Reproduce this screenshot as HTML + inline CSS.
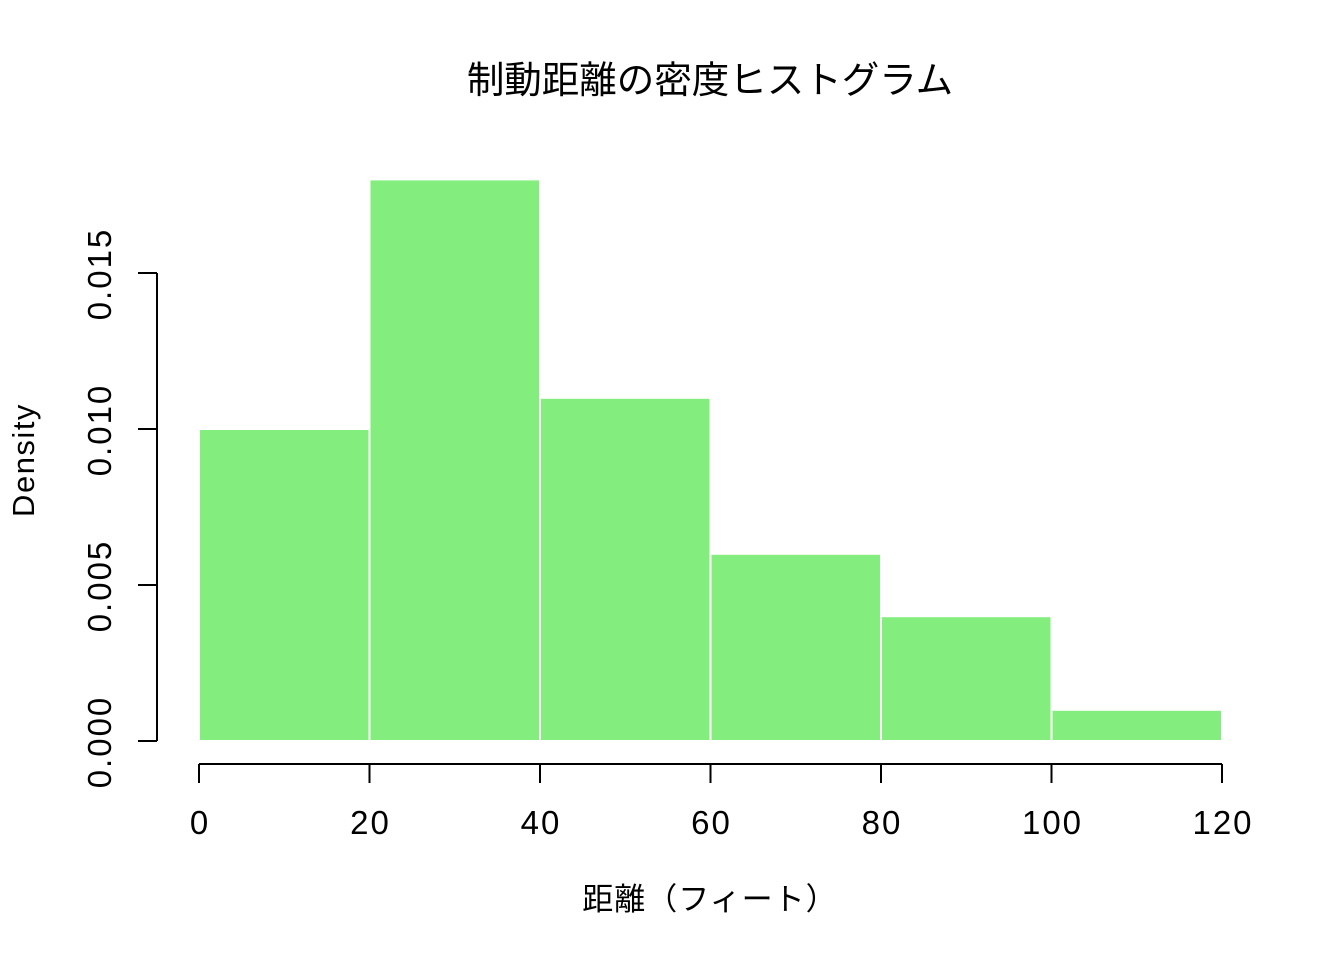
<!DOCTYPE html>
<html><head><meta charset="utf-8"><style>
body{margin:0;background:#fff}
svg{display:block}
text{font-family:"Liberation Sans","Noto Sans CJK JP",sans-serif;fill:#000}
</style></head><body>
<svg id="chart" width="1344" height="960">
<text x="710" y="93" font-size="37.5" text-anchor="middle">制動距離の密度ヒストグラム</text>
<text x="710" y="910" font-size="31" letter-spacing="1" text-anchor="middle">距離（フィート）</text>
<text transform="translate(34,460) rotate(-90)" font-size="31" letter-spacing="1.5" text-anchor="middle">Density</text>
<g id="bars"></g><g id="axes"></g>
</svg>
<script>
const binEdges=[0,20,40,60,80,100,120];
const densities=[0.010,0.018,0.011,0.006,0.004,0.001];
const xTicks=[0,20,40,60,80,100,120];
const yTicks=[0,0.005,0.010,0.015];
const yTickLabels=["0.000","0.005","0.010","0.015"];
const NS="http://www.w3.org/2000/svg";
const xs=v=>199+(v-0)*(1222-199)/120;
const ys=v=>741-v*31200;
function mk(t,a,p){const e=document.createElementNS(NS,t);for(const k in a)e.setAttribute(k,a[k]);p.appendChild(e);return e;}
const bars=document.getElementById('bars'),axes=document.getElementById('axes');
densities.forEach((d,i)=>{
 const r=mk('rect',{x:xs(binEdges[i]),y:ys(d),width:xs(binEdges[i+1])-xs(binEdges[i]),height:ys(0)-ys(d),fill:'#83ee7e',stroke:'#fff','stroke-width':2},bars);
 
 
});
const xl=mk('line',{x1:xs(xTicks[0]),x2:xs(xTicks[xTicks.length-1]),y1:764,y2:764,stroke:'#000','stroke-width':2},axes);


xTicks.forEach(v=>{
 mk('line',{x1:xs(v),x2:xs(v),y1:764,y2:783,stroke:'#000','stroke-width':2},axes);
 const t=mk('text',{x:xs(v)+1,y:834,'font-size':33,'letter-spacing':2,'text-anchor':'middle'},axes);t.textContent=v;
 
 
});
const yl=mk('line',{x1:157,x2:157,y1:ys(yTicks[yTicks.length-1]),y2:ys(0),stroke:'#000','stroke-width':2},axes);


yTicks.forEach((v,i)=>{
 mk('line',{x1:138,x2:157,y1:ys(v),y2:ys(v),stroke:'#000','stroke-width':2},axes);
 const t=mk('text',{transform:`translate(111,${ys(v)+1}) rotate(-90)`,'font-size':33,'letter-spacing':2,'text-anchor':'middle'},axes);t.textContent=yTickLabels[i];
 
 
});
</script>
</body></html>
